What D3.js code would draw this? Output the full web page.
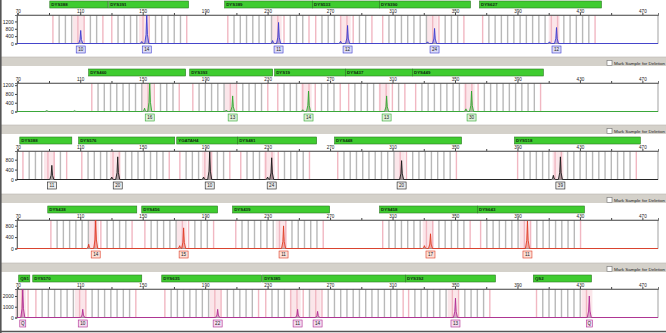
<!DOCTYPE html>
<html>
<head>
<meta charset="utf-8">
<script src="https://cdn.jsdelivr.net/npm/d3@7/dist/d3.min.js"></script>
<style>
  body { margin: 0; background: #fff; }
  svg { display: block; font-family: "Liberation Sans", Arial, sans-serif; }
</style>
</head>
<body>
<svg id="chart" width="666" height="333"></svg>
<script>
// size axis, base pairs
var xTickLabels = [70, 110, 150, 190, 230, 270, 310, 350, 390, 430, 470];
var xMinorTicks = [90, 130, 170, 210, 250, 290, 330, 370, 410, 450];

// one entry per dye panel, top to bottom
var dyeColors = ["#3b3bd0", "#2fa82f", "#1a1a1a", "#e03a22", "#b02a92"];
var yMax      = [1550, 1300, 1150, 1000, 2650];
var yTicks    = [[0, 400, 800, 1200], [0, 400, 800, 1200], [0, 400, 800], [0, 400, 800], [0, 1000, 2000]];

// loci: name, start bp, end bp
var lociBlue   = [["DYS388", 90.5, 127.6], ["DYS391", 128.2, 179.4], ["DYS389", 202.5, 258.8], ["DYS533", 258.8, 301.7], ["DYS390", 301.7, 359.9], ["DYS627", 365.7, 443.8]];
var lociGreen  = [["DYS460", 115.4, 177.5], ["DYS393", 180.1, 233.2], ["DYS19", 234.5, 279.9], ["DYS437", 279.9, 322.8], ["DYS449", 322.8, 406.6]];
var lociBlack  = [["DYS388", 71.3, 104.6], ["DYS576", 109, 170.5], ["YGATAH4", 171.8, 210.8], ["DYS481", 210.8, 261.4], ["DYS448", 272.9, 354.2], ["DYS518", 388.1, 468.7]];
var lociRed    = [["DYS438", 89.2, 146.2], ["DYS456", 149.4, 198], ["DYS439", 207.6, 269.7], ["DYS458", 301.7, 364.4], ["DYS643", 364.4, 432.9]];
var lociPurple = [["QS1", 70.6, 77.7], ["DYS570", 79.6, 149.4], ["DYS635", 162.2, 226.2], ["DYS385", 226.8, 318.3], ["DYS392", 318.3, 375.9], ["QS2", 400.2, 437.4]];

// peaks: size bp, height rfu, allele call (null = stutter / noise)
var peaksBlue   = [[110.3, 710, "10"], [149.4, 110, null], [152.6, 1600, "14"], [233.2, 160, null], [237, 1145, "11"], [276.7, 120, null], [281.2, 980, "12"], [332.4, 90, null], [336.9, 820, "24"], [410.5, 90, null], [415, 870, "12"]];
var peaksGreen  = [[88.6, 50, null], [106.5, 40, null], [151.2, 150, null], [154.5, 1400, "16"], [203.5, 60, null], [207.6, 711, "13"], [252.5, 80, null], [256.2, 933, "14"], [306.2, 711, "13"], [357, 120, null], [360.6, 933, "30"]];
var peaksBlack  = [[91.8, 571, "11"], [130.2, 100, null], [134, 914, "20"], [189, 100, null], [192.9, 1120, "10"], [230, 100, null], [232.6, 876, "24"], [315.8, 762, "20"], [413, 170, null], [417.5, 914, "39"]];
var peaksRed    = [[115.4, 150, null], [119.9, 1000, "14"], [173.7, 100, null], [176.2, 724, "15"], [240.2, 793, "11"], [330.4, 100, null], [334.3, 517, "17"], [396.4, 965, "11"]];
var peaksPurple = [[73.2, 2700, "Q"], [111.6, 760, "10"], [198, 760, "22"], [249.2, 760, "11"], [262, 570, "14"], [350.3, 1800, "13"], [436, 2000, "Q"]];

var allLoci  = [lociBlue, lociGreen, lociBlack, lociRed, lociPurple];
var allPeaks = [peaksBlue, peaksGreen, peaksBlack, peaksRed, peaksPurple];
var labelFill = ["#dcdcf6", "#dcf0d8", "#eeeeee", "#fbe0d8", "#f4dcef"];

var W = 666, H = 333;
var boxTops = [15, 83, 151, 220, 289];
var boxH = 28.5;

var svg = d3.select("#chart");

var x = d3.scaleLinear().domain([69.5, 480]).range([17, 658]);

boxTops.forEach(function(top, i) {
  var bottom = top + boxH;
  var color = dyeColors[i];
  var y = d3.scaleLinear().domain([0, yMax[i]]).range([bottom, top]);
  var g = svg.append("g");

  // grey strip between panels
  if (i > 0) {
    g.append("rect").attr("x", 0).attr("y", top - 26).attr("width", W).attr("height", 9)
      .attr("fill", "#d4d1ca");
    g.append("line").attr("x1", 0).attr("x2", W).attr("y1", top - 26).attr("y2", top - 26)
      .attr("stroke", "#b9b6ae").attr("stroke-width", 0.6);
    g.append("rect").attr("x", 607).attr("y", top - 22.5).attr("width", 5).attr("height", 5)
      .attr("fill", "#fff").attr("stroke", "#6d6d6d").attr("stroke-width", 0.6);
    g.append("text").attr("x", 614).attr("y", top - 18.4)
      .attr("font-size", 4.4).attr("fill", "#222")
      .attr("textLength", 51).attr("lengthAdjust", "spacingAndGlyphs")
      .text("Mark Sample for Deletion");
  }

  // locus bars
  var loci = allLoci[i];
  g.selectAll(".locus").data(loci).enter().append("rect")
    .attr("x", function(d) { return x(d[1]); })
    .attr("y", top - 14)
    .attr("width", function(d) { return x(d[2]) - x(d[1]); })
    .attr("height", 7)
    .attr("fill", "#3fcc30")
    .attr("stroke", "#2c7a22").attr("stroke-width", 0.6);
  g.selectAll(".locusName").data(loci).enter().append("text")
    .attr("x", function(d) { return x(d[1]) + 1.5; })
    .attr("y", top - 8.8)
    .attr("font-size", 4.4).attr("font-weight", "bold").attr("fill", "#102a10")
    .text(function(d) { return d[0]; });

  // bins every repeat unit inside each locus, pink near called alleles
  var calls = allPeaks[i].filter(function(p) { return p[2]; });
  loci.forEach(function(l) {
    calls.forEach(function(p) {
      if (p[0] >= l[1] && p[0] <= l[2]) {
        g.append("rect").attr("x", x(p[0] - 5)).attr("y", top)
          .attr("width", x(p[0] + 2) - x(p[0] - 5)).attr("height", boxH)
          .attr("fill", "#fbe6ea");
      }
    });
    var bins = d3.range(l[1] + 2, l[2] - 1, 4);
    g.selectAll(null).data(bins).enter().append("line")
      .attr("x1", function(d) { return x(d); }).attr("x2", function(d) { return x(d); })
      .attr("y1", top).attr("y2", bottom)
      .attr("stroke", function(d, k) {
        var near = calls.some(function(p) { return Math.abs(p[0] - d) < 4.5; });
        return (near || k === 0 || k === bins.length - 1) ? "#f1b7c2" : "#b8b8b8";
      })
      .attr("stroke-width", 1.4);
  });

  // plot frame
  g.append("rect").attr("x", x.range()[0]).attr("y", top)
    .attr("width", x.range()[1] - x.range()[0]).attr("height", boxH)
    .attr("fill", "none").attr("stroke", "#8a8a8a").attr("stroke-width", 0.8);

  // size axis on top
  var xAxis = d3.axisTop(x)
    .tickValues(xTickLabels.concat(xMinorTicks))
    .tickSize(2).tickPadding(0.3)
    .tickFormat(function(d) { return xTickLabels.indexOf(d) >= 0 ? d : ""; });
  var xa = g.append("g").attr("transform", "translate(0," + top + ")").call(xAxis);
  xa.select(".domain").attr("stroke", "#555").attr("stroke-width", 0.8);
  xa.selectAll("line").attr("stroke", "#444");
  xa.selectAll("text").attr("font-size", 4.6).attr("fill", "#222")
    .attr("font-family", "Liberation Sans, Arial, sans-serif");

  // rfu axis
  var yAxis = d3.axisLeft(y).tickValues(yTicks[i]).tickSize(2).tickPadding(1.2).tickFormat(d3.format("d"));
  var ya = g.append("g").attr("transform", "translate(" + x.range()[0] + ",0)").call(yAxis);
  ya.select(".domain").attr("stroke", "#555").attr("stroke-width", 0.8);
  ya.selectAll("line").attr("stroke", "#444");
  ya.selectAll("text").attr("font-size", 5).attr("fill", "#222")
    .attr("font-family", "Liberation Sans, Arial, sans-serif");

  // trace
  var peaks = allPeaks[i].slice().sort(function(a, b) { return a[0] - b[0]; });
  var pts = [[x.domain()[0], 0]];
  peaks.forEach(function(p) {
    pts.push([p[0] - 1.3, 0], [p[0] - 0.45, p[1] * 0.3], [p[0], p[1]], [p[0] + 0.45, p[1] * 0.3], [p[0] + 1.3, 0]);
  });
  pts.push([x.domain()[1], 0]);

  var clipId = "clip" + i;
  svg.append("clipPath").attr("id", clipId).append("rect")
    .attr("x", x.range()[0]).attr("y", top).attr("width", x.range()[1] - x.range()[0]).attr("height", boxH + 1);

  var area = d3.area().x(function(d) { return x(d[0]); }).y0(bottom).y1(function(d) { return y(d[1]); });
  var line = d3.line().x(function(d) { return x(d[0]); }).y(function(d) { return y(d[1]); });
  var tg = g.append("g").attr("clip-path", "url(#" + clipId + ")");
  tg.append("path").attr("d", area(pts)).attr("fill", color).attr("fill-opacity", 0.35);
  tg.append("path").attr("d", line(pts)).attr("fill", "none").attr("stroke", color).attr("stroke-width", 0.9);

  // allele call boxes
  var calls2 = peaks.filter(function(p) { return p[2]; });
  var lab = g.selectAll(".call").data(calls2).enter().append("g")
    .attr("transform", function(d) { return "translate(" + x(d[0]) + "," + (bottom + 2.5) + ")"; });
  lab.append("rect")
    .attr("x", function(d) { return d[2].length > 1 ? -4.5 : -3; })
    .attr("width", function(d) { return d[2].length > 1 ? 9 : 6; })
    .attr("y", 0).attr("height", 7)
    .attr("fill", labelFill[i]).attr("stroke", color).attr("stroke-width", 0.6);
  lab.append("text").attr("x", 0).attr("y", 5.2).attr("text-anchor", "middle")
    .attr("font-size", 4.6).attr("fill", "#222").text(function(d) { return d[2]; });
});

// window border
svg.append("line").attr("x1", 0.8).attr("x2", 0.8).attr("y1", 0).attr("y2", H)
  .attr("stroke", "#555").attr("stroke-width", 1.6);
svg.append("line").attr("x1", 0).attr("x2", W).attr("y1", 331.5).attr("y2", 331.5)
  .attr("stroke", "#555").attr("stroke-width", 1.4);
</script>
</body>
</html>
